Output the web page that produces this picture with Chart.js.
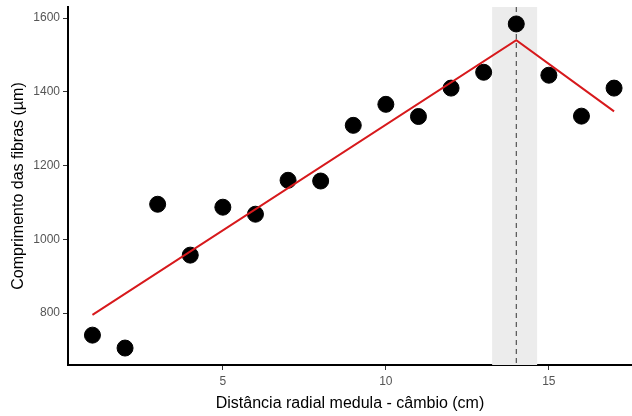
<!DOCTYPE html>
<html>
<head>
<meta charset="utf-8">
<script src="https://cdn.jsdelivr.net/npm/chart.js@4"></script>
<style>
  html, body { margin: 0; padding: 0; background: #fff; }
  #wrap { width: 632px; height: 416px; }
</style>
</head>
<body>
<div id="wrap"><canvas id="myChart" width="632" height="416"></canvas></div>
<script>
// observed values
let distancia = [1, 2, 3, 4, 5, 6, 7, 8, 9, 10, 11, 12, 13, 14, 15, 16, 17]
let comprimento = [740, 705, 1095, 957, 1087, 1068, 1160, 1158, 1309, 1366, 1333, 1410, 1453, 1584, 1445, 1334, 1410]

// segmented fit (break at 14)
let ajusteX = [1, 14, 17]
let ajusteY = [795, 1540, 1347]

// breakpoint and its interval
let pontoQuebra = 14
let intervalo = [13.26, 14.64]

let xTicks = [5, 10, 15]
let yTicks = [800, 1000, 1200, 1400, 1600]

const fonte = "'Liberation Sans', Arial, sans-serif"

const bandaPlugin = {
  id: 'banda',
  beforeDatasetsDraw(chart) {
    const {ctx, chartArea, scales} = chart
    const x0 = scales.x.getPixelForValue(intervalo[0])
    const x1 = scales.x.getPixelForValue(intervalo[1])
    ctx.save()
    ctx.fillStyle = '#ececec'
    ctx.fillRect(x0, chartArea.top, x1 - x0, chartArea.bottom - chartArea.top)
    const xq = scales.x.getPixelForValue(pontoQuebra)
    ctx.strokeStyle = '#333'
    ctx.lineWidth = 1
    ctx.setLineDash([5, 4])
    ctx.beginPath()
    ctx.moveTo(xq, chartArea.top)
    ctx.lineTo(xq, chartArea.bottom)
    ctx.stroke()
    ctx.restore()
  }
}

let cfg = {
  type: 'scatter',
  data: {
    datasets: [{
      label: 'observado',
      data: distancia.map((d, i) => ({x: d, y: comprimento[i]})),
      backgroundColor: '#000',
      borderColor: '#000',
      pointRadius: 8,
      order: 2
    }, {
      type: 'line',
      label: 'ajuste',
      data: ajusteX.map((d, i) => ({x: d, y: ajusteY[i]})),
      borderColor: '#d7191c',
      borderWidth: 2,
      pointRadius: 0,
      fill: false,
      tension: 0,
      order: 1
    }]
  },
  options: {
    responsive: false,
    animation: false,
    layout: {autoPadding: false, padding: {top: 7, right: 0, left: 0, bottom: 0}},
    plugins: {legend: {display: false}, tooltip: {enabled: false}},
    scales: {
      x: {
        type: 'linear',
        min: 0.25,
        max: 17.55,
        afterBuildTicks: s => { s.ticks = xTicks.map(v => ({value: v})) },
        afterFit: s => { s.height = 51; s.paddingLeft = 0; s.paddingRight = 0 },
        grid: {display: true, drawOnChartArea: false, tickLength: 5, color: '#333', tickWidth: 1},
        border: {display: true, color: '#000', width: 2},
        ticks: {color: '#555', font: {family: fonte, size: 12}, padding: 4, maxRotation: 0,
                callback: v => String(v)},
        title: {display: true, text: 'Distância radial medula - câmbio (cm)', color: '#000',
                font: {family: fonte, size: 16}, padding: {top: 0, bottom: 3}}
      },
      y: {
        min: 659,
        max: 1630,
        afterBuildTicks: s => { s.ticks = yTicks.map(v => ({value: v})) },
        afterFit: s => { s.width = 68; s.paddingTop = 0; s.paddingBottom = 0 },
        grid: {display: true, drawOnChartArea: false, tickLength: 5, color: '#333', tickWidth: 1},
        border: {display: true, color: '#000', width: 2},
        ticks: {color: '#555', font: {family: fonte, size: 12}, padding: 3,
                callback: v => String(v)},
        title: {display: true, text: 'Comprimento das fibras (µm)', color: '#000',
                font: {family: fonte, size: 16}, padding: {top: 9, bottom: 2}}
      }
    }
  },
  plugins: [bandaPlugin]
}

const ctx = document.getElementById('myChart')
let myChart = new Chart(ctx, cfg)
</script>
</body>
</html>
